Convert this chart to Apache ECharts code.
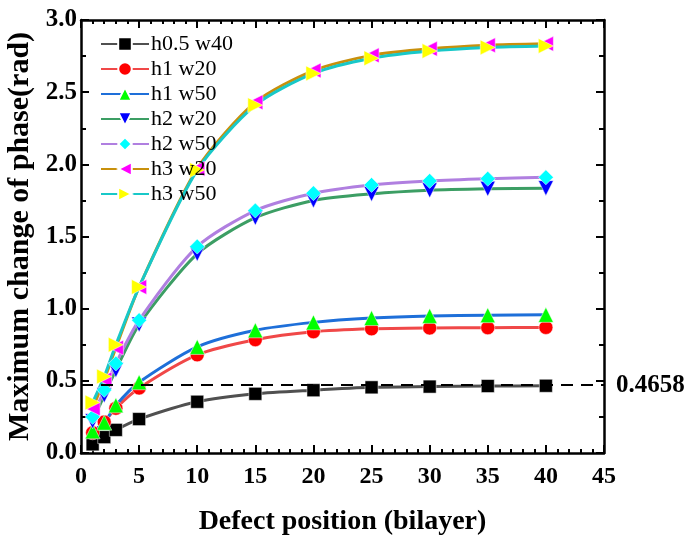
<!DOCTYPE html>
<html>
<head>
<meta charset="utf-8">
<script src="https://cdn.jsdelivr.net/npm/echarts@6/dist/echarts.min.js"></script>
<style>
  html, body { margin: 0; padding: 0; background: #fff; }
  #chart { width: 689px; height: 536px; }
</style>
</head>
<body>
<div id="chart"></div>
<script>
  // defect positions (bilayer)
  var positions = [1, 2, 3, 5, 10, 15, 20, 25, 30, 35, 40];

  var h05w40 = [0.06, 0.11, 0.16, 0.235, 0.355, 0.41, 0.435, 0.455, 0.46, 0.464, 0.4658];
  var h1w20 = [0.14, 0.215, 0.31, 0.45, 0.68, 0.785, 0.84, 0.86, 0.866, 0.868, 0.87];
  var h1w50 = [0.15, 0.21, 0.33, 0.49, 0.735, 0.85, 0.905, 0.935, 0.95, 0.955, 0.957];
  var h2w20 = [0.22, 0.40, 0.575, 0.89, 1.38, 1.63, 1.75, 1.795, 1.82, 1.83, 1.835];
  var h2w50 = [0.25, 0.437, 0.62, 0.92, 1.43, 1.68, 1.80, 1.857, 1.885, 1.9, 1.91];
  var h3w20 = [0.31, 0.51, 0.73, 1.15, 1.97, 2.43, 2.65, 2.755, 2.80, 2.825, 2.835];
  var h3w50 = [0.35, 0.53, 0.75, 1.15, 1.96, 2.41, 2.63, 2.735, 2.785, 2.81, 2.82];

  var refValue = 0.4658;

  var FONT = '"Liberation Serif", "Times New Roman", serif';

  function pairs(vals) {
    return positions.map(function (x, i) { return [x, vals[i]]; });
  }

  function mkSeries(name, vals, lineColor, symColor, symbol, rotate, size) {
    return {
      name: name,
      type: 'line',
      data: pairs(vals),
      smooth: 0.25,
      symbol: symbol,
      symbolSize: size || 15,
      symbolRotate: rotate || 0,
      showAllSymbol: true,
      lineStyle: { color: lineColor, width: 3 },
      itemStyle: { color: symColor, borderColor: '#fff', borderWidth: 0.5 },
      emphasis: { disabled: true },
      z: 3
    };
  }

  var series = [
    mkSeries('h0.5 w40', h05w40, '#505050', '#000000', 'rect', 0, 13),
    mkSeries('h1 w20', h1w20, '#f04848', '#ff0000', 'circle', 0, 14),
    mkSeries('h1 w50', h1w50, '#1e6fd9', '#00ff00', 'triangle'),
    mkSeries('h2 w20', h2w20, '#3c9e64', '#0000ff', 'triangle', 180),
    mkSeries('h2 w50', h2w50, '#b07fe0', '#00ffff', 'diamond'),
    mkSeries('h3 w20', h3w20, '#c8900c', '#ff00ff', 'triangle', 90),
    mkSeries('h3 w50', h3w50, '#18c8c8', '#ffff00', 'triangle', -90)
  ];

  series[0].markLine = {
    silent: true,
    symbol: 'none',
    lineStyle: { color: '#000', type: [12, 8], width: 2 },
    label: {
      position: 'end',
      formatter: String(refValue),
      color: '#000',
      fontFamily: FONT,
      fontWeight: 'bold',
      fontSize: 25,
      distance: 12
    },
    data: [{ yAxis: refValue }]
  };

  var axisLine = { show: true, onZero: false, lineStyle: { color: '#000', width: 2.5 } };
  var tickStyle = { color: '#000', width: 2 };

  var chart = echarts.init(document.getElementById('chart'));
  chart.setOption({
    backgroundColor: '#fff',
    animation: false,
    grid: { left: 81, right: 85, top: 20, bottom: 83, containLabel: false, outerBoundsMode: 'none' },
    legend: {
      left: 95,
      top: 28,
      orient: 'vertical',
      itemWidth: 48,
      itemHeight: 17,
      itemGap: 3,
      textStyle: { fontFamily: FONT, fontSize: 22, lineHeight: 22, color: '#000', padding: [0, 0, 0, -3] },
      data: series.map(function (s) { return s.name; })
    },
    xAxis: [{
      type: 'value',
      min: 0, max: 45, interval: 5,
      position: 'bottom',
      name: 'Defect position (bilayer)',
      nameLocation: 'middle',
      nameGap: 55,
      nameTextStyle: { fontFamily: FONT, fontWeight: 'bold', fontSize: 28, color: '#000' },
      axisLine: axisLine,
      axisTick: { inside: true, length: 8, lineStyle: tickStyle },
      minorTick: { show: true, splitNumber: 5, length: 4, lineStyle: tickStyle },
      axisLabel: { fontFamily: FONT, fontWeight: 'bold', fontSize: 24, color: '#000', margin: 12 },
      splitLine: { show: false }
    }, {
      type: 'value',
      min: 0, max: 45, interval: 5,
      position: 'top',
      axisLine: axisLine,
      axisTick: { inside: true, length: 8, lineStyle: tickStyle },
      minorTick: { show: true, splitNumber: 5, length: 4, lineStyle: tickStyle },
      axisLabel: { show: false },
      splitLine: { show: false }
    }],
    yAxis: [{
      type: 'value',
      min: 0, max: 3, interval: 0.5,
      position: 'left',
      name: 'Maximum change of phase(rad)',
      nameLocation: 'middle',
      nameGap: 41,
      nameTextStyle: { fontFamily: FONT, fontWeight: 'bold', fontSize: 30, color: '#000' },
      axisLine: axisLine,
      axisTick: { inside: true, length: 8, lineStyle: tickStyle },
      minorTick: { show: true, splitNumber: 2, length: 5, lineStyle: tickStyle },
      axisLabel: {
        fontFamily: FONT, fontWeight: 'bold', fontSize: 25, color: '#000', margin: 4,
        formatter: function (v) { return v.toFixed(1); }
      },
      splitLine: { show: false }
    }, {
      type: 'value',
      min: 0, max: 3, interval: 0.5,
      position: 'right',
      axisLine: axisLine,
      axisTick: { inside: true, length: 8, lineStyle: tickStyle },
      minorTick: { show: true, splitNumber: 2, length: 5, lineStyle: tickStyle },
      axisLabel: { show: false },
      splitLine: { show: false }
    }],
    series: series
  });
</script>
</body>
</html>
